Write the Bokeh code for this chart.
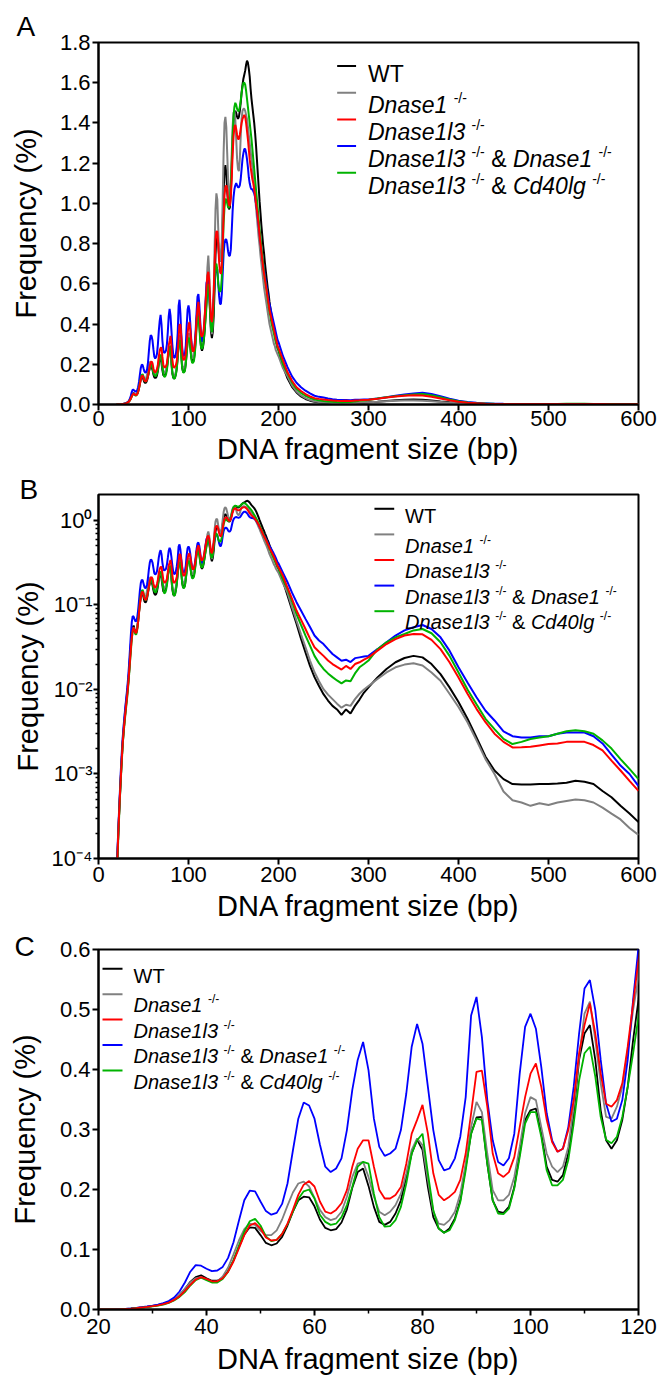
from bokeh.plotting import figure
from bokeh.layouts import column
from bokeh.models import Range1d, FixedTicker, PrintfTickFormatter, CustomJSTickFormatter, Label
from bokeh.embed import file_html
from bokeh.resources import INLINE

FONT = "Liberation Sans"

# ---------------- data ----------------
GENOTYPES = ["WT", "Dnase1", "Dnase1l3", "Dnase1l3 & Dnase1", "Dnase1l3 & Cd40lg"]
COLORS = ["#000000", "#808080", "#ff0000", "#0000ff", "#00b300"]

X_FINE = list(range(20, 201))                                   # 1 bp steps
X_TAIL = list(range(205, 300, 5)) + list(range(300, 601, 10))   # coarser tail

WT_FINE = [
    0.00005, 0.0001, 0.0002, 0.00036, 0.0006, 0.001, 0.0016, 0.0024, 0.0033, 0.0044,
    0.0057, 0.0073, 0.0093, 0.012, 0.016, 0.024, 0.034, 0.046, 0.054, 0.057,
    0.052, 0.048, 0.048, 0.053, 0.064, 0.082, 0.104, 0.125, 0.137, 0.136,
    0.124, 0.111, 0.107, 0.110, 0.121, 0.140, 0.163, 0.182, 0.188, 0.187,
    0.172, 0.150, 0.136, 0.132, 0.134, 0.145, 0.167, 0.203, 0.229, 0.235,
    0.206, 0.171, 0.146, 0.141, 0.146, 0.160, 0.182, 0.221, 0.260, 0.283,
    0.266, 0.204, 0.154, 0.135, 0.128, 0.135, 0.152, 0.182, 0.238, 0.293,
    0.320, 0.321, 0.243, 0.182, 0.163, 0.161, 0.171, 0.204, 0.260, 0.316,
    0.332, 0.335, 0.293, 0.238, 0.216, 0.213, 0.224, 0.260, 0.327, 0.416,
    0.460, 0.474, 0.416, 0.332, 0.282, 0.268, 0.282, 0.316, 0.371, 0.449,
    0.516, 0.60, 0.63, 0.58, 0.45, 0.36, 0.33, 0.36, 0.44, 0.58,
    0.74, 0.84, 0.85, 0.80, 0.74, 0.71, 0.72, 0.78, 0.90, 1.06,
    1.16, 1.19, 1.15, 1.06, 1.00, 0.97, 0.98, 1.05, 1.17, 1.30,
    1.40, 1.45, 1.46, 1.45, 1.43, 1.42, 1.43, 1.46, 1.50, 1.55,
    1.59, 1.62, 1.64, 1.66, 1.69, 1.71, 1.70, 1.67, 1.63, 1.57,
    1.52, 1.48, 1.44, 1.40, 1.35, 1.29, 1.22, 1.15, 1.08, 1.01,
    0.95, 0.89, 0.84, 0.79, 0.75, 0.70, 0.66, 0.62, 0.58, 0.55,
    0.51, 0.48, 0.45, 0.42, 0.39, 0.37, 0.35, 0.32, 0.30, 0.28, 0.27,
]
WT_TAIL = [
    0.19, 0.13, 0.088, 0.060, 0.040, 0.0275, 0.019, 0.014, 0.011, 0.0088,
    0.0074, 0.0064, 0.0058, 0.0050, 0.0058, 0.0052, 0.0064, 0.0076, 0.0092,
    0.0106, 0.0139, 0.0175, 0.021, 0.0236, 0.025, 0.024, 0.020, 0.0152, 0.0106,
    0.0071, 0.0045, 0.0027, 0.0016, 0.0011, 0.00087, 0.00076, 0.00075, 0.00075, 0.00076,
    0.00076, 0.00077, 0.00079, 0.00083, 0.00081, 0.00076, 0.00063, 0.00053, 0.00042, 0.00034,
    0.00027,
]

DNASE1_FINE = [
    0.00005, 0.0001, 0.0002, 0.00037, 0.00064, 0.0011, 0.0017, 0.0026, 0.0036, 0.0048,
    0.0062, 0.0078, 0.0098, 0.0125, 0.017, 0.025, 0.035, 0.045, 0.052, 0.054,
    0.050, 0.046, 0.047, 0.055, 0.070, 0.092, 0.115, 0.134, 0.143, 0.141,
    0.131, 0.124, 0.124, 0.132, 0.150, 0.173, 0.195, 0.210, 0.213, 0.205,
    0.186, 0.166, 0.154, 0.149, 0.152, 0.163, 0.188, 0.221, 0.243, 0.246,
    0.221, 0.188, 0.163, 0.157, 0.163, 0.174, 0.193, 0.227, 0.266, 0.285,
    0.274, 0.216, 0.163, 0.143, 0.141, 0.149, 0.163, 0.193, 0.243, 0.304,
    0.346, 0.329, 0.260, 0.199, 0.182, 0.182, 0.191, 0.221, 0.271, 0.327,
    0.354, 0.349, 0.304, 0.260, 0.238, 0.229, 0.238, 0.271, 0.338, 0.421,
    0.493, 0.513, 0.449, 0.377, 0.321, 0.318, 0.338, 0.371, 0.432, 0.499,
    0.554, 0.68, 0.74, 0.66, 0.50, 0.38, 0.35, 0.40, 0.55, 0.78,
    0.97, 1.05, 1.02, 0.88, 0.76, 0.71, 0.72, 0.82, 1.02, 1.25,
    1.40, 1.43, 1.38, 1.25, 1.12, 1.05, 1.04, 1.10, 1.24, 1.38,
    1.45, 1.46, 1.42, 1.32, 1.22, 1.17, 1.16, 1.22, 1.33, 1.42,
    1.46, 1.47, 1.47, 1.46, 1.44, 1.42, 1.38, 1.34, 1.30, 1.26,
    1.22, 1.18, 1.13, 1.08, 1.03, 0.98, 0.93, 0.88, 0.83, 0.79,
    0.74, 0.70, 0.66, 0.62, 0.58, 0.55, 0.52, 0.49, 0.46, 0.43,
    0.40, 0.38, 0.36, 0.34, 0.32, 0.30, 0.29, 0.27, 0.26, 0.25, 0.24,
]
DNASE1_TAIL = [
    0.18, 0.14, 0.095, 0.065, 0.045, 0.0316, 0.022, 0.016, 0.0125, 0.0101,
    0.0087, 0.0077, 0.0068, 0.0061, 0.0066, 0.0064, 0.0077, 0.0089, 0.0100,
    0.011, 0.0133, 0.0159, 0.0183, 0.0197, 0.0204, 0.0192, 0.0159, 0.0127, 0.0089,
    0.0062, 0.0041, 0.0025, 0.0015, 0.0010, 0.00062, 0.00049, 0.00046, 0.00042, 0.00045,
    0.00043, 0.00046, 0.00048, 0.00050, 0.00049, 0.00046, 0.00040, 0.00034, 0.00029, 0.00023,
    0.00019,
]

DNASE1L3_FINE = [
    0.00005, 0.0001, 0.0002, 0.00036, 0.00062, 0.001, 0.0016, 0.0024, 0.0033, 0.0043,
    0.0055, 0.007, 0.0088, 0.0115, 0.016, 0.022, 0.031, 0.041, 0.050, 0.054,
    0.051, 0.047, 0.047, 0.052, 0.063, 0.080, 0.102, 0.124, 0.140, 0.144,
    0.135, 0.120, 0.115, 0.116, 0.126, 0.143, 0.166, 0.191, 0.208, 0.214,
    0.205, 0.180, 0.163, 0.160, 0.166, 0.177, 0.199, 0.238, 0.268, 0.282,
    0.282, 0.238, 0.199, 0.185, 0.185, 0.191, 0.204, 0.243, 0.293, 0.316,
    0.341, 0.293, 0.227, 0.191, 0.182, 0.188, 0.196, 0.216, 0.260, 0.327,
    0.396, 0.398, 0.338, 0.260, 0.227, 0.221, 0.229, 0.254, 0.304, 0.354,
    0.393, 0.410, 0.371, 0.316, 0.279, 0.263, 0.268, 0.299, 0.349, 0.427,
    0.474, 0.510, 0.460, 0.393, 0.343, 0.338, 0.349, 0.377, 0.438, 0.510,
    0.582, 0.64, 0.66, 0.62, 0.52, 0.43, 0.41, 0.45, 0.55, 0.70,
    0.82, 0.86, 0.86, 0.80, 0.71, 0.66, 0.65, 0.69, 0.80, 0.94,
    1.04, 1.08, 1.09, 1.07, 1.02, 0.99, 0.99, 1.03, 1.12, 1.24,
    1.33, 1.38, 1.39, 1.37, 1.34, 1.32, 1.32, 1.34, 1.37, 1.40,
    1.42, 1.43, 1.44, 1.43, 1.40, 1.36, 1.32, 1.27, 1.22, 1.18,
    1.15, 1.12, 1.10, 1.07, 1.04, 1.00, 0.97, 0.93, 0.89, 0.84,
    0.80, 0.76, 0.72, 0.68, 0.65, 0.62, 0.59, 0.56, 0.53, 0.50,
    0.47, 0.45, 0.43, 0.41, 0.39, 0.37, 0.35, 0.33, 0.31, 0.29, 0.28,
]
DNASE1L3_TAIL = [
    0.22, 0.16, 0.118, 0.086, 0.067, 0.052, 0.040, 0.0316, 0.028, 0.025,
    0.022, 0.020, 0.0185, 0.0172, 0.019, 0.0175, 0.020, 0.021, 0.0225,
    0.024, 0.0288, 0.0345, 0.0394, 0.0435, 0.0454, 0.045, 0.0386, 0.030, 0.021,
    0.0139, 0.0089, 0.0059, 0.0041, 0.0030, 0.0024, 0.00206, 0.00207, 0.0021, 0.00218,
    0.00226, 0.0023, 0.0024, 0.0024, 0.0024, 0.0022, 0.0019, 0.00144, 0.0011, 0.00083,
    0.00063,
]

DOUBLE_D1_FINE = [
    0.00006, 0.00012, 0.00022, 0.0004, 0.0007, 0.0012, 0.0019, 0.0028, 0.0038, 0.005,
    0.0065, 0.0082, 0.0105, 0.014, 0.020, 0.030, 0.045, 0.063, 0.074, 0.073,
    0.068, 0.064, 0.065, 0.071, 0.086, 0.112, 0.148, 0.182, 0.198, 0.197,
    0.180, 0.164, 0.158, 0.161, 0.176, 0.210, 0.265, 0.318, 0.345, 0.340,
    0.318, 0.275, 0.238, 0.229, 0.235, 0.252, 0.299, 0.366, 0.416, 0.446,
    0.399, 0.318, 0.271, 0.256, 0.260, 0.268, 0.299, 0.360, 0.438, 0.476,
    0.443, 0.371, 0.299, 0.249, 0.232, 0.235, 0.252, 0.288, 0.354, 0.490,
    0.521, 0.454, 0.349, 0.282, 0.246, 0.240, 0.252, 0.293, 0.393, 0.471,
    0.493, 0.468, 0.404, 0.327, 0.282, 0.263, 0.268, 0.304, 0.371, 0.460,
    0.535, 0.549, 0.499, 0.416, 0.343, 0.313, 0.318, 0.349, 0.416, 0.516,
    0.604, 0.62, 0.61, 0.56, 0.48, 0.43, 0.42, 0.45, 0.53, 0.61,
    0.66, 0.68, 0.67, 0.61, 0.54, 0.50, 0.50, 0.55, 0.65, 0.75,
    0.80, 0.82, 0.82, 0.80, 0.76, 0.74, 0.74, 0.77, 0.86, 0.96,
    1.03, 1.07, 1.09, 1.10, 1.09, 1.08, 1.08, 1.09, 1.12, 1.17,
    1.22, 1.25, 1.27, 1.27, 1.25, 1.22, 1.18, 1.13, 1.10, 1.08,
    1.07, 1.07, 1.06, 1.05, 1.03, 1.00, 0.97, 0.93, 0.89, 0.85,
    0.81, 0.77, 0.73, 0.70, 0.67, 0.64, 0.61, 0.58, 0.55, 0.52,
    0.50, 0.48, 0.46, 0.44, 0.42, 0.40, 0.38, 0.36, 0.34, 0.32, 0.31,
]
DOUBLE_D1_TAIL = [
    0.24, 0.186, 0.14, 0.108, 0.086, 0.0685, 0.055, 0.0435, 0.038, 0.0345,
    0.030, 0.0263, 0.024, 0.0219, 0.0225, 0.0211, 0.0235, 0.024, 0.0245,
    0.025, 0.030, 0.0362, 0.0435, 0.050, 0.0545, 0.058, 0.052, 0.0414, 0.0288,
    0.0183, 0.0121, 0.0081, 0.0056, 0.0043, 0.0032, 0.0028, 0.0027, 0.0027, 0.0028,
    0.0028, 0.0030, 0.0031, 0.0031, 0.0031, 0.0028, 0.0023, 0.0017, 0.00126, 0.0010,
    0.00072,
]

DOUBLE_CD_FINE = [
    0.00004, 0.00009, 0.00018, 0.00033, 0.00058, 0.00095, 0.0015, 0.0023, 0.0031, 0.0041,
    0.0052, 0.0066, 0.0083, 0.011, 0.015, 0.021, 0.029, 0.040, 0.049, 0.053,
    0.049, 0.045, 0.045, 0.051, 0.063, 0.082, 0.106, 0.130, 0.147, 0.151,
    0.140, 0.122, 0.114, 0.116, 0.126, 0.142, 0.163, 0.184, 0.197, 0.200,
    0.185, 0.158, 0.146, 0.141, 0.143, 0.154, 0.174, 0.204, 0.238, 0.246,
    0.243, 0.193, 0.154, 0.138, 0.139, 0.149, 0.171, 0.210, 0.260, 0.282,
    0.293, 0.227, 0.166, 0.135, 0.128, 0.132, 0.149, 0.179, 0.232, 0.293,
    0.318, 0.316, 0.243, 0.182, 0.160, 0.159, 0.168, 0.202, 0.254, 0.310,
    0.329, 0.329, 0.288, 0.232, 0.207, 0.207, 0.216, 0.249, 0.310, 0.382,
    0.427, 0.438, 0.388, 0.321, 0.283, 0.277, 0.288, 0.321, 0.371, 0.427,
    0.488, 0.57, 0.60, 0.56, 0.46, 0.38, 0.36, 0.40, 0.50, 0.62,
    0.69, 0.70, 0.67, 0.60, 0.57, 0.56, 0.57, 0.63, 0.76, 0.90,
    0.98, 1.02, 1.02, 1.00, 0.98, 0.98, 1.01, 1.08, 1.20, 1.33,
    1.43, 1.48, 1.50, 1.49, 1.47, 1.46, 1.46, 1.48, 1.51, 1.55,
    1.58, 1.60, 1.60, 1.59, 1.56, 1.52, 1.48, 1.44, 1.40, 1.36,
    1.32, 1.27, 1.22, 1.17, 1.12, 1.07, 1.02, 0.97, 0.92, 0.87,
    0.83, 0.78, 0.74, 0.70, 0.66, 0.62, 0.59, 0.56, 0.52, 0.49,
    0.46, 0.44, 0.41, 0.39, 0.37, 0.35, 0.33, 0.31, 0.30, 0.28, 0.27,
]
DOUBLE_CD_TAIL = [
    0.20, 0.155, 0.11, 0.078, 0.058, 0.0435, 0.033, 0.025, 0.0205, 0.0175,
    0.0155, 0.014, 0.0128, 0.0118, 0.0128, 0.0125, 0.0155, 0.0183, 0.020,
    0.022, 0.030, 0.0362, 0.0414, 0.0454, 0.050, 0.052, 0.0463, 0.0362, 0.025,
    0.0159, 0.010, 0.0067, 0.0045, 0.0034, 0.0026, 0.00226, 0.0024, 0.0026, 0.0027,
    0.0028, 0.0030, 0.0032, 0.0033, 0.0032, 0.0030, 0.0025, 0.0020, 0.0015, 0.00115,
    0.00087,
]

X_TICKS_AB = [0, 100, 200, 300, 400, 500, 600]
Y_TICKS_A = [0.0, 0.2, 0.4, 0.6, 0.8, 1.0, 1.2, 1.4, 1.6, 1.8]
Y_TICKS_B = [1e-4, 1e-3, 1e-2, 1e-1, 1e0]
X_TICKS_C = [20, 40, 60, 80, 100, 120]
X_MINOR_C = [30, 50, 70, 90, 110]
Y_TICKS_C = [0.0, 0.1, 0.2, 0.3, 0.4, 0.5, 0.6]

X_ALL = X_FINE + X_TAIL
SERIES = [
    WT_FINE + WT_TAIL,
    DNASE1_FINE + DNASE1_TAIL,
    DNASE1L3_FINE + DNASE1L3_TAIL,
    DOUBLE_D1_FINE + DOUBLE_D1_TAIL,
    DOUBLE_CD_FINE + DOUBLE_CD_TAIL,
]
DRAW_ORDER = [0, 1, 3, 4, 2]

# ---------------- helpers ----------------
ARIAL_W = {'W': 944, 'T': 611, 'D': 722, 'n': 556, 'a': 556, 's': 500, 'e': 556,
           '1': 556, 'l': 222, '3': 556, 'C': 722, 'd': 556, '4': 556, '0': 556,
           'g': 556, ' ': 278, '&': 667, '-': 333, '/': 278}


def tw(text, size):
    return sum(ARIAL_W.get(c, 556) for c in text) * size / 1000.0


def pieces_for(name):
    out = []
    parts = name.split(" & ")
    for i, part in enumerate(parts):
        if i > 0:
            out.append((" ", "sp"))
            out.append(("&", "n"))
            out.append((" ", "sp"))
        if part == "WT":
            out.append((part, "n"))
        else:
            out.append((part, "it"))
            out.append((" ", "sp"))
            out.append(("-/-", "sup"))
    return out


def style_axes(p, tick_size="22px", label_size="29px"):
    for ax in (p.xaxis[0], p.yaxis[0]):
        ax.axis_line_width = 2
        ax.axis_line_color = "black"
        ax.major_tick_line_width = 2
        ax.major_tick_line_color = "black"
        ax.major_tick_in = 0
        ax.major_tick_out = 6
        ax.minor_tick_line_width = 1.5
        ax.minor_tick_line_color = "black"
        ax.minor_tick_in = 0
        ax.minor_tick_out = 4
        ax.major_label_text_font = FONT
        ax.major_label_text_font_size = tick_size
        ax.major_label_text_color = "black"
        ax.axis_label_text_font = FONT
        ax.axis_label_text_font_size = label_size
        ax.axis_label_text_font_style = "normal"
        ax.axis_label_text_color = "black"
    p.xgrid.visible = False
    p.ygrid.visible = False
    p.outline_line_color = "black"
    p.outline_line_width = 2
    p.background_fill_color = "white"
    p.border_fill_color = "white"


class Panel:
    def __init__(self, w, h, fl, ft, fr, fb, xr, yr, log=False):
        self.w, self.h = w, h
        self.fl, self.ft = fl, ft
        self.fw = w - fl - fr
        self.fh = h - ft - fb
        self.xr, self.yr, self.log = xr, yr, log
        kw = dict(width=w, height=h, output_backend="svg", toolbar_location=None,
                  x_range=Range1d(*xr), y_range=Range1d(*yr),
                  min_border_left=fl, min_border_top=ft, min_border_right=fr,
                  min_border_bottom=fb)
        if log:
            kw["y_axis_type"] = "log"
        self.p = figure(**kw)

    def x(self, px):
        x0, x1 = self.xr
        return x0 + (px - self.fl) / self.fw * (x1 - x0)

    def y(self, py):
        y0, y1 = self.yr
        if self.log:
            import math
            l0, l1 = math.log10(y0), math.log10(y1)
            return 10 ** (l1 - (py - self.ft) / self.fh * (l1 - l0))
        return y1 - (py - self.ft) / self.fh * (y1 - y0)

    def letter(self, text, px, standoff):
        t = self.p.title
        t.text = text
        t.align = "left"
        t.offset = px - self.fl
        t.standoff = standoff
        t.text_font = FONT
        t.text_font_size = "28px"
        t.text_font_style = "normal"
        t.text_color = "black"

    def legend(self, lx0, lx1, tx, ly0, dy, size, sup_size, sup_rise, sup_shift):
        for i, name in enumerate(GENOTYPES):
            ly = ly0 + i * dy
            col = COLORS[i]
            self.p.segment(x0=[self.x(lx0)], y0=[self.y(ly)], x1=[self.x(lx1)], y1=[self.y(ly)],
                           line_color=col, line_width=2)
            pcs = pieces_for(name)
            has_sup = any(k == "sup" for _, k in pcs)
            ty = ly + (sup_shift if has_sup else 0)
            base_px = ty + 0.358 * size  # baseline pixel
            off = 0.0
            for text, kind in pcs:
                if kind == "sp":
                    off += tw(" ", size)
                    continue
                fs = sup_size if kind == "sup" else size
                yo = sup_rise if kind == "sup" else 0
                self.p.add_layout(Label(
                    x=self.x(tx), y=self.y(base_px), x_offset=off, y_offset=yo,
                    text=text, text_font=FONT, text_font_size=f"{fs}px",
                    text_font_style="italic" if kind == "it" else "normal",
                    text_baseline="alphabetic", text_align="left", text_color="black"))
                off += tw(text, fs)

    def draw(self, lw):
        for i in DRAW_ORDER:
            self.p.line(X_ALL, SERIES[i], line_color=COLORS[i], line_width=lw)


W = 658

# ---------------- panel A (page y 0..471) ----------------
A = Panel(W, 471, 96, 42, 19, 67, (0, 600), (0, 1.8))
A.draw(2)
pA = A.p
style_axes(pA)
pA.xaxis.ticker = FixedTicker(ticks=X_TICKS_AB)
pA.yaxis.ticker = FixedTicker(ticks=Y_TICKS_A)
pA.yaxis.formatter = PrintfTickFormatter(format="%.1f")
pA.xaxis.axis_label = "DNA fragment size (bp)"
pA.yaxis.axis_label = "Frequency (%)"
pA.xaxis.major_label_standoff = 0
pA.yaxis.major_label_standoff = 2
pA.xaxis.axis_label_standoff = 4
pA.yaxis.axis_label_standoff = 15
A.letter("A", 14, 2)
A.legend(336, 355, 367, 65.5, 26.7, 23, 14, 7, 4.5)

# ---------------- panel B (page y 471..928) ----------------
B = Panel(W, 457, 93, 23, 19, 70, (0, 600), (1e-4, 2.03), log=True)
B.draw(2)
pB = B.p
style_axes(pB)
pB.xaxis.ticker = FixedTicker(ticks=X_TICKS_AB)
pB.yaxis.ticker = FixedTicker(ticks=Y_TICKS_B,
                              minor_ticks=[m * 10 ** e for e in range(-4, 0) for m in range(2, 10)])
pB.yaxis.formatter = CustomJSTickFormatter(code="""
const sup = {"-": "\u207b", "0": "\u2070", "1": "\u00b9", "2": "\u00b2", "3": "\u00b3", "4": "\u2074"};
const e = Math.round(Math.log10(tick));
return "10" + String(e).split("").map(c => sup[c]).join("");
""")
pB.yaxis.major_tick_out = 5
pB.yaxis.minor_tick_out = 3
pB.xaxis.axis_label = "DNA fragment size (bp)"
pB.yaxis.axis_label = "Frequency (%)"
pB.xaxis.major_label_standoff = 2
pB.yaxis.major_label_standoff = 1
pB.xaxis.axis_label_standoff = 5
pB.yaxis.axis_label_standoff = 5
B.letter("B", 14, -20)
B.legend(372, 392, 403, 37.3, 25.6, 20, 12, 6, 4)

# ---------------- panel C (page y 928..1381) ----------------
C = Panel(W, 453, 98, 21, 20, 72, (20, 120), (0, 0.6))
C.draw(1.8)
pC = C.p
style_axes(pC)
pC.xaxis.ticker = FixedTicker(ticks=X_TICKS_C, minor_ticks=X_MINOR_C)
pC.yaxis.ticker = FixedTicker(ticks=Y_TICKS_C)
pC.yaxis.formatter = PrintfTickFormatter(format="%.1f")
pC.xaxis.axis_label = "DNA fragment size (bp)"
pC.yaxis.axis_label = "Frequency (%)"
pC.xaxis.major_label_standoff = 3
pC.yaxis.major_label_standoff = 2
pC.xaxis.axis_label_standoff = 6
pC.yaxis.axis_label_standoff = 16
C.letter("C", 14, -24)
C.legend(102, 122, 133, 40.3, 25.4, 20, 12, 6, 4)

layout = column(pA, pB, pC, spacing=0)
open("out.html", "w").write(file_html(layout, INLINE))
